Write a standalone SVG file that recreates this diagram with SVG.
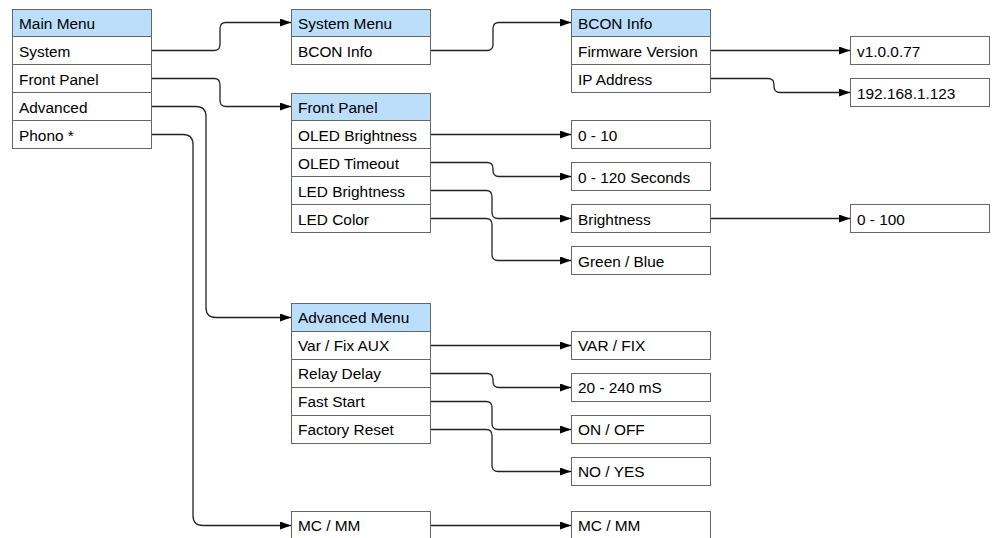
<svg xmlns="http://www.w3.org/2000/svg" width="995" height="538" viewBox="0 0 995 538">
<style>
.box{fill:#fff;stroke:#666;stroke-width:1}
.hdr{fill:#bbdefb;stroke:#666;stroke-width:1}
.sep{stroke:#666;stroke-width:1}
text{font-family:"Liberation Sans",Arial,sans-serif;font-size:15.4px;fill:#000}
.con{fill:none;stroke:#222;stroke-width:1.3}
</style>
<defs>
<marker id="arr" markerUnits="userSpaceOnUse" markerWidth="11" markerHeight="8" refX="11" refY="4" orient="auto">
<path d="M0,0 L11,4 L0,8 z" fill="#000"/>
</marker>
</defs>
<rect width="995" height="538" fill="#fff"/>

<g id="main-menu">
<rect class="box" x="12.5" y="9.5" width="139" height="139"/>
<rect class="hdr" x="12.5" y="9.5" width="139" height="27"/>
<line class="sep" x1="12.5" y1="64.5" x2="151.5" y2="64.5"/>
<line class="sep" x1="12.5" y1="92.5" x2="151.5" y2="92.5"/>
<line class="sep" x1="12.5" y1="120.5" x2="151.5" y2="120.5"/>
<text x="19" y="28.5">Main Menu</text>
<text x="19" y="56.5">System</text>
<text x="19" y="84.5">Front Panel</text>
<text x="19" y="112.5">Advanced</text>
<text x="19" y="140.5">Phono *</text>
</g>

<g id="system-menu">
<rect class="box" x="291.5" y="9.5" width="139" height="55"/>
<rect class="hdr" x="291.5" y="9.5" width="139" height="27"/>
<text x="298" y="28.5">System Menu</text>
<text x="298" y="56.5">BCON Info</text>
</g>

<g id="bcon-info">
<rect class="box" x="571.5" y="9.5" width="139" height="83"/>
<rect class="hdr" x="571.5" y="9.5" width="139" height="27"/>
<line class="sep" x1="571.5" y1="64.5" x2="710.5" y2="64.5"/>
<text x="578" y="28.5">BCON Info</text>
<text x="578" y="56.5">Firmware Version</text>
<text x="578" y="84.5">IP Address</text>
</g>

<g id="firmware-value">
<rect class="box" x="850.5" y="36.5" width="139" height="28"/>
<text x="857" y="56.5">v1.0.0.77</text>
</g>
<g id="ip-value">
<rect class="box" x="850.5" y="78.5" width="139" height="28"/>
<text x="857" y="98.5">192.168.1.123</text>
</g>

<g id="front-panel">
<rect class="box" x="291.5" y="93.5" width="139" height="139"/>
<rect class="hdr" x="291.5" y="93.5" width="139" height="27"/>
<line class="sep" x1="291.5" y1="148.5" x2="430.5" y2="148.5"/>
<line class="sep" x1="291.5" y1="176.5" x2="430.5" y2="176.5"/>
<line class="sep" x1="291.5" y1="204.5" x2="430.5" y2="204.5"/>
<text x="298" y="112.5">Front Panel</text>
<text x="298" y="140.5">OLED Brightness</text>
<text x="298" y="168.5">OLED Timeout</text>
<text x="298" y="196.5">LED Brightness</text>
<text x="298" y="224.5">LED Color</text>
</g>

<g id="oled-brightness-value">
<rect class="box" x="571.5" y="120.5" width="139" height="28"/>
<text x="578" y="140.5">0 - 10</text>
</g>
<g id="oled-timeout-value">
<rect class="box" x="571.5" y="162.5" width="139" height="28"/>
<text x="578" y="182.5">0 - 120 Seconds</text>
</g>
<g id="brightness">
<rect class="box" x="571.5" y="204.5" width="139" height="28"/>
<text x="578" y="224.5">Brightness</text>
</g>
<g id="color-value">
<rect class="box" x="571.5" y="246.5" width="139" height="28"/>
<text x="578" y="266.5">Green / Blue</text>
</g>
<g id="brightness-value">
<rect class="box" x="850.5" y="204.5" width="139" height="28"/>
<text x="857" y="224.5">0 - 100</text>
</g>

<g id="advanced-menu">
<rect class="box" x="291.5" y="303.5" width="139" height="140"/>
<rect class="hdr" x="291.5" y="303.5" width="139" height="28"/>
<line class="sep" x1="291.5" y1="359.5" x2="430.5" y2="359.5"/>
<line class="sep" x1="291.5" y1="387.5" x2="430.5" y2="387.5"/>
<line class="sep" x1="291.5" y1="415.5" x2="430.5" y2="415.5"/>
<text x="298" y="323">Advanced Menu</text>
<text x="298" y="351">Var / Fix AUX</text>
<text x="298" y="379">Relay Delay</text>
<text x="298" y="407">Fast Start</text>
<text x="298" y="435">Factory Reset</text>
</g>

<g id="varfix-value">
<rect class="box" x="571.5" y="331.5" width="139" height="28"/>
<text x="578" y="351">VAR / FIX</text>
</g>
<g id="relay-value">
<rect class="box" x="571.5" y="373.5" width="139" height="28"/>
<text x="578" y="393">20 - 240 mS</text>
</g>
<g id="faststart-value">
<rect class="box" x="571.5" y="415.5" width="139" height="28"/>
<text x="578" y="435">ON / OFF</text>
</g>
<g id="reset-value">
<rect class="box" x="571.5" y="457.5" width="139" height="28"/>
<text x="578" y="477">NO / YES</text>
</g>

<g id="phono-menu">
<rect class="box" x="291.5" y="511.5" width="139" height="40"/>
<text x="298" y="531">MC / MM</text>
</g>
<g id="phono-value">
<rect class="box" x="571.5" y="511.5" width="139" height="40"/>
<text x="578" y="531">MC / MM</text>
</g>

<g id="connectors">
<path class="con" marker-end="url(#arr)" d="M152,50.5 H214 Q220,50.5 220,44.5 V28.5 Q220,22.5 226,22.5 H291"/>
<path class="con" marker-end="url(#arr)" d="M152,78.5 H214 Q220,78.5 220,84.5 V100.5 Q220,106.5 226,106.5 H291"/>
<path class="con" marker-end="url(#arr)" d="M152,106.5 H196 Q206,106.5 206,116.5 V307.5 Q206,317.5 216,317.5 H291"/>
<path class="con" marker-end="url(#arr)" d="M152,134.5 H183 Q193,134.5 193,144.5 V515.5 Q193,525.5 203,525.5 H291"/>
<path class="con" marker-end="url(#arr)" d="M431,50.5 H487 Q493,50.5 493,44.5 V28.5 Q493,22.5 499,22.5 H571"/>
<path class="con" marker-end="url(#arr)" d="M711,50.5 H850"/>
<path class="con" marker-end="url(#arr)" d="M711,78.5 H768 Q774,78.5 774,84.5 V86.5 Q774,92.5 780,92.5 H850"/>
<path class="con" marker-end="url(#arr)" d="M431,134.5 H571"/>
<path class="con" marker-end="url(#arr)" d="M431,162.5 H487 Q493,162.5 493,168.5 V170.5 Q493,176.5 499,176.5 H571"/>
<path class="con" marker-end="url(#arr)" d="M431,190.5 H486 Q492,190.5 492,196.5 V212.5 Q492,218.5 498,218.5 H571"/>
<path class="con" marker-end="url(#arr)" d="M431,218.5 H486 Q492,218.5 492,224.5 V254.5 Q492,260.5 498,260.5 H571"/>
<path class="con" marker-end="url(#arr)" d="M711,218.5 H850"/>
<path class="con" marker-end="url(#arr)" d="M431,345.5 H571"/>
<path class="con" marker-end="url(#arr)" d="M431,373.5 H487 Q493,373.5 493,379.5 V381.5 Q493,387.5 499,387.5 H571"/>
<path class="con" marker-end="url(#arr)" d="M431,401.5 H486 Q492,401.5 492,407.5 V423.5 Q492,429.5 498,429.5 H571"/>
<path class="con" marker-end="url(#arr)" d="M431,429.5 H486 Q492,429.5 492,435.5 V465.5 Q492,471.5 498,471.5 H571"/>
<path class="con" marker-end="url(#arr)" d="M431,525.5 H571"/>
</g>
</svg>
